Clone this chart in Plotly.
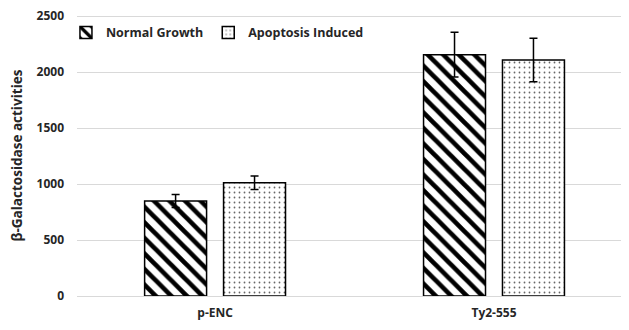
import plotly.graph_objects as go

categories = ["p-ENC", "Ty2-555"]
normal_vals = [848, 2155]
normal_err = [58, 200]
apop_vals = [1012, 2107]
apop_err = [60, 195]
series_names = ["Normal Growth", "Apoptosis Induced"]
y_ticks = [0, 500, 1000, 1500, 2000, 2500]

FONT = "Open Sans, sans-serif"
TXT = "#262626"

fig = go.Figure()
fig.add_trace(go.Bar(
    name=series_names[0], x=categories, y=normal_vals,
    marker=dict(color="white", line=dict(color="black", width=1.5),
                pattern=dict(shape="\\", fgcolor="#000000", bgcolor="white", fgopacity=1,
                             fillmode="replace", size=11, solidity=0.42)),
    error_y=dict(type="data", array=normal_err, color="black", thickness=1.5, width=4),
))
fig.add_trace(go.Bar(
    name=series_names[1], x=categories, y=apop_vals,
    marker=dict(color="white", line=dict(color="black", width=1.5),
                pattern=dict(shape=".", fgcolor="#666666", bgcolor="white", fgopacity=1,
                             fillmode="replace", size=5, solidity=0.1)),
    error_y=dict(type="data", array=apop_err, color="black", thickness=1.5, width=4),
))

fig.update_layout(
    width=621, height=322,
    margin=dict(l=69, r=0, t=7, b=34),
    paper_bgcolor="white", plot_bgcolor="white",
    barmode="group", bargap=0.434, bargroupgap=0.215,
    font=dict(family=FONT, size=12, color=TXT),
    showlegend=True,
    legend=dict(orientation="h", x=-0.02, y=0.99, xanchor="left", yanchor="top",
                font=dict(family=FONT, size=12.5, color=TXT, weight="bold"),
                bgcolor="rgba(0,0,0,0)", itemwidth=30),
    xaxis=dict(range=[-0.495, 1.484], showgrid=False, showline=False, ticks="",
               ticklabelstandoff=8,
               tickfont=dict(family=FONT, size=12, weight="bold", color=TXT)),
    yaxis=dict(range=[0, 2509], tickvals=y_ticks, showgrid=True, gridcolor="#d9d9d9",
               gridwidth=1, zeroline=True, zerolinecolor="#d9d9d9", zerolinewidth=1,
               showline=False, ticks="", ticklabelstandoff=12, ticklabeloverflow="allow",
               tickfont=dict(family=FONT, size=12, weight="bold", color=TXT),
               title=dict(text="β-Galactosidase activities", standoff=12,
                          font=dict(family=FONT, size=13.5, weight="bold", color=TXT))),
)

fig.write_html("out.html")
